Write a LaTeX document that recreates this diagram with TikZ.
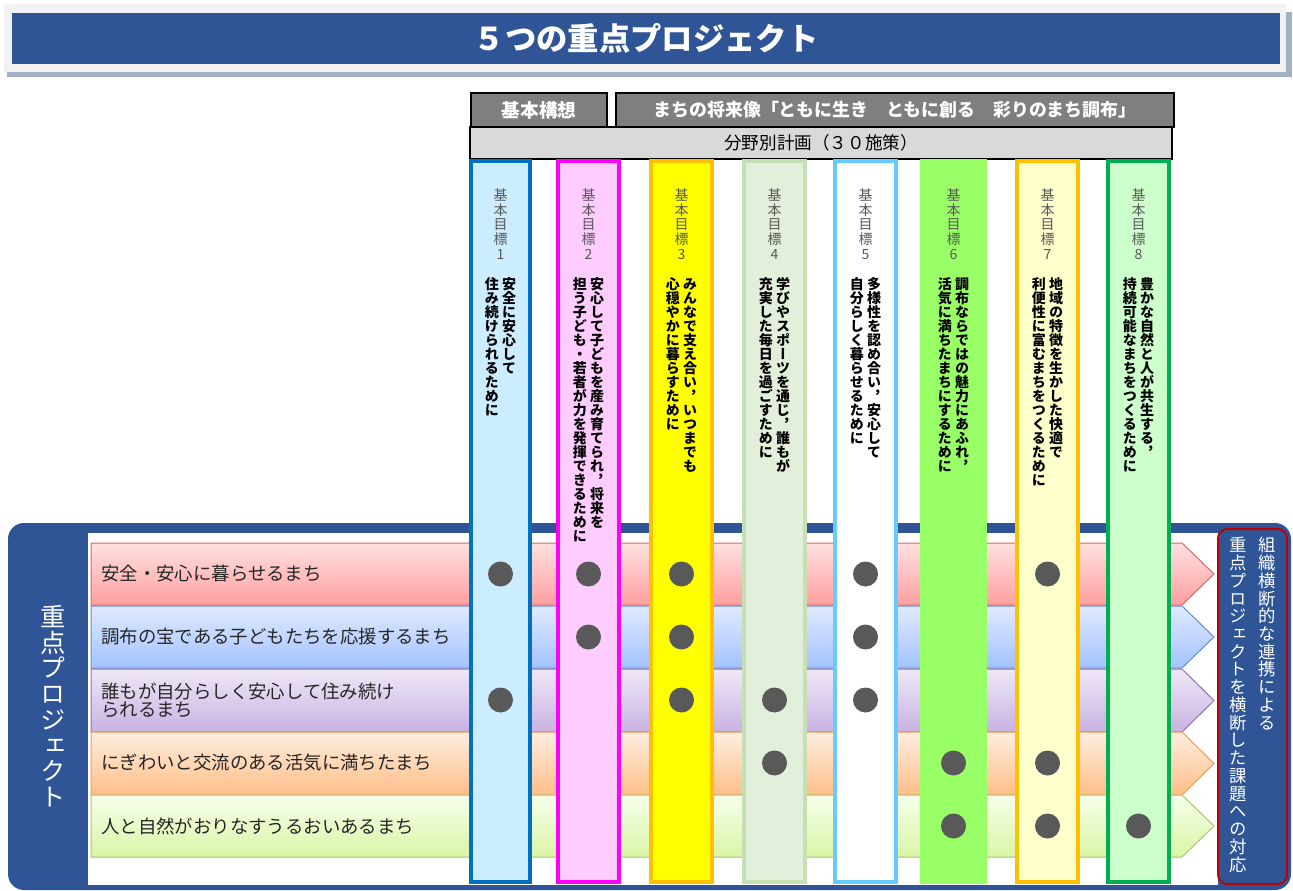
\documentclass[tikz,border=0pt]{standalone}
\usepackage{fontspec}
\setmainfont{Noto Sans CJK JP}
\newfontfamily\tatefont[RawFeature={+vert}]{Noto Sans CJK JP}
\usetikzlibrary{positioning}

% vertical writing: one character under the other
\def\tateloop#1{\ifx\relax#1\else\hbox to 1em{\hss#1\hss}\expandafter\tateloop\fi}
\newcommand\tate[1]{\vtop{\tatefont\lineskiplimit=-\maxdimen\expandafter\tateloop#1\relax}}

\definecolor{blau}{HTML}{2F5597}
\definecolor{schatten}{HTML}{A3AFC2}
\definecolor{rahmen}{HTML}{F2F2F2}
\definecolor{kopfgrau}{HTML}{7F7F7F}
\definecolor{hellgrau}{HTML}{D9D9D9}
\definecolor{punktgrau}{HTML}{595959}
\definecolor{schrift}{HTML}{262626}
\definecolor{dunkelrot}{HTML}{C00000}
\definecolor{rand1}{HTML}{0070C0}\definecolor{fuell1}{HTML}{CCECFF}
\definecolor{rand2}{HTML}{FF00FF}\definecolor{fuell2}{HTML}{FFCCFF}
\definecolor{rand3}{HTML}{FFC000}\definecolor{fuell3}{HTML}{FFFF00}
\definecolor{rand4}{HTML}{C5E0B4}\definecolor{fuell4}{HTML}{E2EFDA}
\definecolor{rand5}{HTML}{66CCFF}\definecolor{fuell5}{HTML}{FFFFFF}
\definecolor{rand6}{HTML}{99FF66}\definecolor{fuell6}{HTML}{99FF66}
\definecolor{rand7}{HTML}{FFC000}\definecolor{fuell7}{HTML}{FFFFCC}
\definecolor{rand8}{HTML}{00B050}\definecolor{fuell8}{HTML}{CCFFCC}
\definecolor{zo1}{HTML}{FFE0E0}\definecolor{zu1}{HTML}{FF9F9F}\definecolor{zr1}{HTML}{D46A6A}
\definecolor{zo2}{HTML}{E0EAFF}\definecolor{zu2}{HTML}{A3C2FF}\definecolor{zr2}{HTML}{6A8CC8}
\definecolor{zo3}{HTML}{EFE8F7}\definecolor{zu3}{HTML}{C8B2E2}\definecolor{zr3}{HTML}{8E72B8}
\definecolor{zo4}{HTML}{FFEEE0}\definecolor{zu4}{HTML}{FFBE88}\definecolor{zr4}{HTML}{F39A55}
\definecolor{zo5}{HTML}{F7FFEA}\definecolor{zu5}{HTML}{D9F5A6}\definecolor{zr5}{HTML}{A8C76A}

\tikzset{
    %Define style for header boxes
    boks/.style={
           rectangle,
           draw=black,
           line width=1.5pt,
           inner sep=0pt,
           minimum height=25.5pt},
    %Define style for goal columns
    soeyle/.style={
           rectangle,
           line width=3pt,
           inner sep=0pt,
           minimum height=540.75pt},
    %Define style for goal texts
    nummer/.style={
           inner sep=0pt,
           text=punktgrau,
           font=\fontsize{10.5}{11.1}\selectfont},
    ziel/.style={
           inner sep=0pt,
           font=\fontsize{10.5}{10.5}\selectfont\bfseries},
    % Define row text style
    zeile/.style={
           inner sep=0pt,
           align=left,
           text=schrift,
           font=\fontsize{13.8}{13.5}\selectfont},
    % Define dot style
    prikk/.style={
           circle,
           fill=punktgrau,
           inner sep=0pt,
           minimum size=18.75pt}
}

\begin{document}
\begin{tikzpicture}[x=0.75pt, y=-0.75pt]
  \useasboundingbox (0,0) rectangle (1293,891);
  % title
  \fill[schatten] (7,12) rectangle (1292,77);
  \fill[rahmen] (4,4) rectangle (1286,72);
  \node[fill=blau, inner sep=0pt, minimum width=951pt, minimum height=38.25pt,
        text=white, font=\fontsize{23.5}{23.5}\selectfont\bfseries] (titel) at (646,38.5) {５つの重点プロジェクト};
  % header
  \node[boks, fill=kopfgrau, minimum width=102pt, text=white,
        font=\fontsize{14}{14}\selectfont\bfseries] (kg) at (539,110) {基本構想};
  \node[boks, fill=kopfgrau, minimum width=418.5pt, text=white, right=5.25pt of kg,
        font=\fontsize{13.4}{13.4}\selectfont\bfseries] (zs) {まちの将来像「ともに生き　ともに創る　彩りのまち調布」};
  \node[boks, fill=hellgrau, minimum width=526.5pt, minimum height=24pt,
        font=\fontsize{13.2}{13.2}\selectfont] (bk) at (821,143) {分野別計画（３０施策）};
  % frame of the projects
  \fill[blau, rounded corners=12pt] (8,523) rectangle (1291,890);
  \fill[white] (88,533) rectangle (1218,885);
  \node[anchor=north, inner sep=0pt, text=white, font=\fontsize{19}{19.3}\selectfont] (lp) at (53,605) {\tate{重点プロジェクト}};
  \node[draw=dunkelrot, line width=1.5pt, fill=blau, rounded corners=7pt, inner sep=0pt,
        minimum width=51.75pt, minimum height=266.25pt] (rk) at (1252.5,706.5) {};
  \node[below=6.75pt of rk.north, inner sep=0pt, text=white, font=\fontsize{13}{13.3}\selectfont] (rt)
    {\tate{重点プロジェクトを横断した課題への対応}\hskip8.75pt\tate{組織横断的な連携による}};
  % rows
  \foreach \n/\o/\u in {1/543/605,2/606/668,3/669/732,4/732/795,5/795/857}
    \shade[top color=zo\n, bottom color=zu\n, draw=zr\n, line width=0.75pt]
      (91,\o) -- (1182,\o) -- (1214,{(\o+\u)/2}) -- (1182,\u) -- (91,\u) -- cycle;
  \foreach \n/\y/\t in {1/574/安全・安心に暮らせるまち, 2/637/調布の宝である子どもたちを応援するまち,
      3/700/{誰もが自分らしく安心して住み続け\\られるまち}, 4/763/にぎわいと交流のある活気に満ちたまち,
      5/826/人と自然がおりなすうるおいあるまち}
    \node[zeile, anchor=west] (t\n) at (101,\y) {\t};
  % columns
  \foreach \n/\l/\r in {1/469/532,2/556/621,3/649/714,4/742/807,5/833/898,6/920/987,7/1015/1080,8/1106/1171}
    \node[soeyle, draw=rand\n, fill=fuell\n, minimum width={(\r-\l-4)*0.75pt}] (z\n) at ({(\l+\r)/2},521.5) {};
  \foreach \n in {1,...,8}
    \node[nummer, below=22pt of z\n.north] (n\n) {\tate{基本目標\n}};
  \foreach \n/\p/\q in {1/安全に安心して/住み続けられるために,
      2/安心して子どもを産み育てられ，将来を/担う子ども・若者が力を発揮できるために,
      3/みんなで支え合い，いつまでも/心穏やかに暮らすために,
      4/学びやスポーツを通じ，誰もが/充実した毎日を過ごすために,
      5/多様性を認め合い，安心して/自分らしく暮らせるために,
      6/調布ならではの魅力にあふれ，/活気に満ちたまちにするために,
      7/地域の特徴を生かした快適で/利便性に富むまちをつくるために,
      8/豊かな自然と人が共生する，/持続可能なまちをつくるために}
    \node[ziel, below=88.5pt of z\n.north] (g\n) {\tate{\q}\hskip2.5pt\tate{\p}};
  % dots
  \foreach \r/\c in {1/1,1/2,1/3,1/5,1/7,2/2,2/3,2/5,3/1,3/3,3/4,3/5,4/4,4/6,4/7,5/6,5/7,5/8}
    \node[prikk] (p\r\c) at (z\c |- t\r) {};
\end{tikzpicture}
\end{document}
